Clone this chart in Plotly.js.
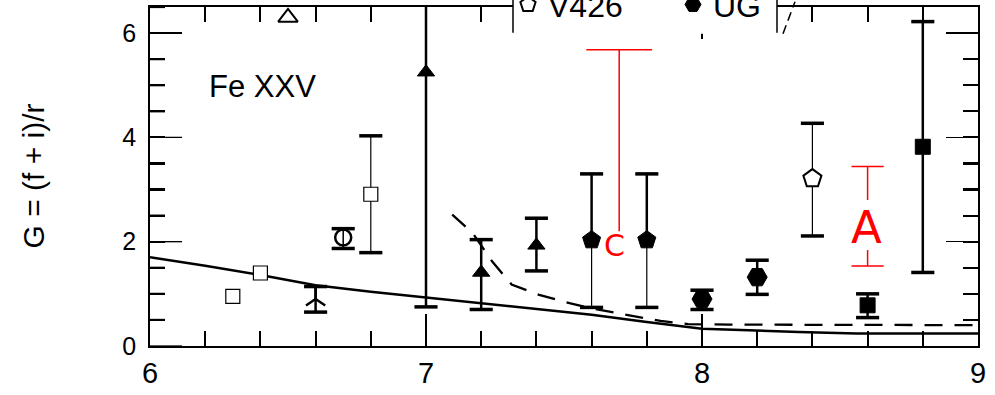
<!DOCTYPE html>
<html><head><meta charset="utf-8">
<script src="https://cdn.plot.ly/plotly-3.0.1.min.js"></script>
<style>html,body{margin:0;padding:0;background:#fff}</style>
</head><body><div id="chart" style="width:995px;height:395px"></div>
<script>
// ---------- data ----------
const xTickVals = [6, 7, 8, 9];
const yTickVals = [0, 2, 4, 6];

const modelSolidX = [6.0, 6.2, 6.4, 6.6, 6.8, 7.0, 7.2, 7.4, 7.6, 7.8, 7.92, 8.0, 8.35, 8.56, 9.0];
const modelSolidY = [1.70, 1.54, 1.36, 1.165, 1.04, 0.93, 0.83, 0.72, 0.60, 0.46, 0.38, 0.33, 0.27, 0.24, 0.24];

const modelDashX = [7.095, 7.17, 7.24, 7.31, 7.41, 7.52, 7.62, 7.73, 7.85, 7.95, 8.1, 9.0];
const modelDashY = [2.52, 2.16, 1.62, 1.18, 0.98, 0.82, 0.70, 0.59, 0.48, 0.42, 0.41, 0.40];

const sqOpenX = [6.3, 6.4, 6.8];
const sqOpenY = [0.95, 1.40, 2.91];
const sqOpenLo = [null, null, 1.79];
const sqOpenHi = [null, null, 4.03];

const triOpenX = [6.5];
const triOpenY = [6.30];

const circOpenX = [6.7];
const circOpenY = [2.08];
const circOpenLo = [1.87];
const circOpenHi = [2.25];

const yUpX = [6.6];
const yUpY = [0.90];
const yUpLo = [0.65];
const yUpHi = [1.14];

const triX = [7.0, 7.2, 7.4];
const triY = [5.25, 1.41, 1.93];
const triLo = [0.75, 0.70, 1.44];
const triHi = [6.5, 2.04, 2.45];

const pentX = [7.6, 7.8];
const pentY = [2.03, 2.03];
const pentLo = [0.74, 0.74];
const pentHi = [3.30, 3.30];

const ugX = [8.0, 8.2];
const ugY = [0.90, 1.32];
const ugLo = [0.70, 0.99];
const ugHi = [1.07, 1.645];

const v426X = [8.4];
const v426Y = [3.21];
const v426Lo = [2.11];
const v426Hi = [4.27];

const sqX = [8.6, 8.8];
const sqY = [0.78, 3.82];
const sqLo = [0.545, 1.41];
const sqHi = [1.00, 6.22];

const limitCX = [7.7];
const limitCLo = [2.2];
const limitCHi = [5.68];
const labelC = 'C';
const labelCPos = [7.683, 1.93];

const limitAX = [8.6];
const limitALo = [1.535];
const limitAHi = [3.44];
const limitAGap = [1.84, 2.80];
const labelA = 'A';
const labelAPos = [8.597, 2.27];

const ionLabel = 'Fe XXV';
const yTitle = 'G = (f + i)/r';
const yTop = 6.5;
const yMinorStep = 0.5;

// ---------- helpers ----------
const FONT = 'Liberation Sans, Arial, Helvetica, sans-serif';
const K = '#000';
function up(y, hi) { return hi.map((h, i) => h == null ? 0 : Math.min(h, yTop) - y[i]); }
function dn(y, lo) { return lo.map((l, i) => l == null ? 0 : y[i] - l); }
function stem(x, y, lo, hi, thick) {
  return {
    x: x, y: y, type: 'scatter', mode: 'markers', showlegend: false, hoverinfo: 'skip',
    marker: {size: 1, opacity: 0},
    error_y: {type: 'data', symmetric: false,
      array: hi ? up(y, hi) : y.map(() => 0),
      arrayminus: lo ? dn(y, lo) : y.map(() => 0),
      width: 0, thickness: thick, color: K}
  };
}
function pts(x, y, marker, extra) {
  return Object.assign({x: x, y: y, type: 'scatter', mode: 'markers', showlegend: false,
    hoverinfo: 'skip', marker: marker}, extra || {});
}

const capX = [], capY = [];
[[sqOpenX, sqOpenLo, sqOpenHi], [circOpenX, circOpenLo, circOpenHi], [yUpX, yUpLo, yUpHi],
 [triX, triLo, triHi], [pentX, pentLo, pentHi], [ugX, ugLo, ugHi], [v426X, v426Lo, v426Hi],
 [sqX, sqLo, sqHi]].forEach(function (s) {
  s[0].forEach(function (x, i) {
    if (s[1][i] != null) { capX.push(x); capY.push(s[1][i]); }
    if (s[2][i] != null && s[2][i] < yTop) { capX.push(x); capY.push(s[2][i]); }
  });
});

const traces = [
  {x: modelSolidX, y: modelSolidY, type: 'scatter', mode: 'lines', showlegend: false, hoverinfo: 'skip',
   line: {color: K, width: 2.5}},
  {x: modelDashX, y: modelDashY, type: 'scatter', mode: 'lines', showlegend: false, hoverinfo: 'skip',
   line: {color: K, width: 2.3, dash: '18px,12px'}},
  stem(sqOpenX, sqOpenY, sqOpenLo, sqOpenHi, 1.2),
  stem(circOpenX, circOpenY, circOpenLo, circOpenHi, 1.5),
  stem(yUpX, yUpY, yUpLo, yUpHi, 2.5),
  stem(triX, triY, triLo, triHi, 2.5),
  stem(pentX, pentY, null, pentHi, 2.5),
  stem(pentX, pentY, pentLo, null, 1.2),
  stem(ugX, ugY, ugLo, ugHi, 2.5),
  stem(v426X, v426Y, v426Lo, v426Hi, 1.2),
  stem(sqX, sqY, sqLo, sqHi, 2.5),
  pts(sqOpenX, sqOpenY, {symbol: 'square', size: 14, color: '#fff', line: {color: K, width: 1.2}}),
  pts(triOpenX, triOpenY, {symbol: 'triangle-up', size: 17, color: '#fff', line: {color: K, width: 2}}, {cliponaxis: false}),
  pts(circOpenX, circOpenY, {symbol: 'circle-open', size: 16, color: K, line: {color: K, width: 2.5}}),
  pts(yUpX, yUpY, {symbol: 'y-up', size: 16, color: K, line: {color: K, width: 2.5}}),
  pts(triX, triY, {symbol: 'triangle-up', size: 15, color: K, line: {color: K, width: 1}}),
  pts(pentX, pentY, {symbol: 'pentagon', size: 19, color: K, line: {color: K, width: 1}}),
  pts(ugX, ugY, {symbol: 'hexagon2', size: 20, color: K, line: {color: K, width: 1}}, {name: 'UG', showlegend: true, legendrank: 2}),
  pts(v426X, v426Y, {symbol: 'pentagon', size: 19, color: '#fff', line: {color: K, width: 2}}, {name: 'V426', showlegend: true, legendrank: 1}),
  pts(sqX, sqY, {symbol: 'square', size: 15, color: K, line: {color: K, width: 1}}),
  pts(capX, capY, {symbol: 'line-ew', size: 16.5, color: K, line: {color: K, width: 3.5}}),
  {x: [limitCX[0], limitCX[0], null, limitAX[0], limitAX[0], null, limitAX[0], limitAX[0]],
   y: [limitCLo[0], limitCHi[0], null, limitAHi[0], limitAGap[1], null, limitAGap[0], limitALo[0]],
   type: 'scatter', mode: 'lines', showlegend: false, hoverinfo: 'skip', line: {color: '#ff0000', width: 1.5}},
  pts(limitCX, limitCHi, {symbol: 'line-ew', size: 47, color: '#ff0000', line: {color: '#ff0000', width: 1.5}}),
  pts(limitAX.concat(limitAX), limitAHi.concat(limitALo), {symbol: 'line-ew', size: 23, color: '#ff0000', line: {color: '#ff0000', width: 1.5}})
];

const W = 995, H = 395, ML = 150, MR = 17, MT = 7.3, MB = 49.3;
const PW = W - ML - MR, PH = H - MT - MB;
const px = p => (p - ML) / PW;
const py = p => (H - MB - p) / PH;

// left-side tick marks (safety net, coincide with the axis' own ticks)
const leftTickShapes = [];
for (let v = 0; v <= yTop + 1e-9; v += yMinorStep) {
  const major = yTickVals.some(t => Math.abs(t - v) < 1e-9);
  leftTickShapes.push({type: 'line', xref: 'paper', yref: 'y', x0: 0, x1: (major ? 32 : 15) / PW,
    y0: v, y1: v, line: {color: K, width: major ? 1.3 : 2.2}, layer: 'above'});
}

const layout = {
  width: W, height: H,
  margin: {l: ML, r: MR, t: MT, b: MB, pad: 0, autoexpand: false},
  paper_bgcolor: '#fff', plot_bgcolor: '#fff',
  font: {family: FONT, color: K},
  xaxis: {range: [6, 9], tickmode: 'array', tickvals: xTickVals, ticktext: xTickVals.map(String),
    ticks: 'inside', ticklen: 32, tickwidth: 1.3, tickcolor: K,
    showline: true, linewidth: 2, linecolor: K, mirror: 'ticks',
    showgrid: false, zeroline: false, tickfont: {family: FONT, size: 29, color: K},
    minor: {tickmode: 'linear', dtick: 0.2, tick0: 6, ticks: 'inside', ticklen: 15, tickwidth: 2, tickcolor: K, showgrid: false}},
  yaxis: {range: [0, yTop], tickmode: 'array', tickvals: yTickVals, ticktext: yTickVals.map(v => v + '\u00a0'),
    ticks: 'inside', ticklen: 32, tickwidth: 1.3, tickcolor: K,
    showline: true, linewidth: 2, linecolor: K, mirror: 'ticks',
    showgrid: false, zeroline: false, tickfont: {family: FONT, size: 25, color: K},
    minor: {tickmode: 'linear', dtick: yMinorStep, tick0: 0, ticks: 'inside', ticklen: 15, tickwidth: 2.2, tickcolor: K, showgrid: false}},
  showlegend: true,
  legend: {orientation: 'h', x: px(508), xanchor: 'left', y: py(5), yanchor: 'middle',
    bgcolor: 'rgba(0,0,0,0)', borderwidth: 0, font: {family: FONT, size: 32, color: K},
    itemsizing: 'trace', traceorder: 'normal', entrywidth: 120, entrywidthmode: 'pixels'},
  shapes: [
    {type: 'rect', xref: 'paper', yref: 'paper', x0: px(513), x1: px(777), y0: py(34), y1: py(-5),
     fillcolor: '#fff', line: {width: 0}, layer: 'above'},
    {type: 'line', xref: 'paper', yref: 'paper', x0: px(513), x1: px(513), y0: py(33), y1: py(-2),
     line: {color: K, width: 1.5}, layer: 'above'},
    {type: 'line', xref: 'paper', yref: 'paper', x0: px(777), x1: px(777), y0: py(33), y1: py(-2),
     line: {color: K, width: 1.5}, layer: 'above'},
    {type: 'line', xref: 'paper', yref: 'paper', x0: px(783), x1: px(795), y0: py(34), y1: py(2),
     line: {color: K, width: 1.5, dash: '9px,5px'}, layer: 'above'}
  ].concat(leftTickShapes),
  annotations: [
    {x: px(33), y: 0.5, xref: 'paper', yref: 'paper', text: yTitle, textangle: -90, showarrow: false,
     xanchor: 'center', yanchor: 'middle', font: {family: FONT, size: 30, color: K}},
    {x: 6.205, y: 4.97, xref: 'x', yref: 'y', text: ionLabel, showarrow: false, xanchor: 'left', yanchor: 'middle',
     font: {family: FONT, size: 31, color: K}},
    {x: labelCPos[0], y: labelCPos[1], xref: 'x', yref: 'y', text: labelC, showarrow: false,
     font: {family: 'DejaVu Sans, sans-serif', size: 30, color: '#ff0000'}},
    {x: labelAPos[0], y: labelAPos[1], xref: 'x', yref: 'y', text: labelA, showarrow: false,
     font: {family: 'DejaVu Sans, sans-serif', size: 45, color: '#ff0000'}}
  ]
};

Plotly.newPlot('chart', traces, layout, {displayModeBar: false, staticPlot: true});
</script></body></html>
